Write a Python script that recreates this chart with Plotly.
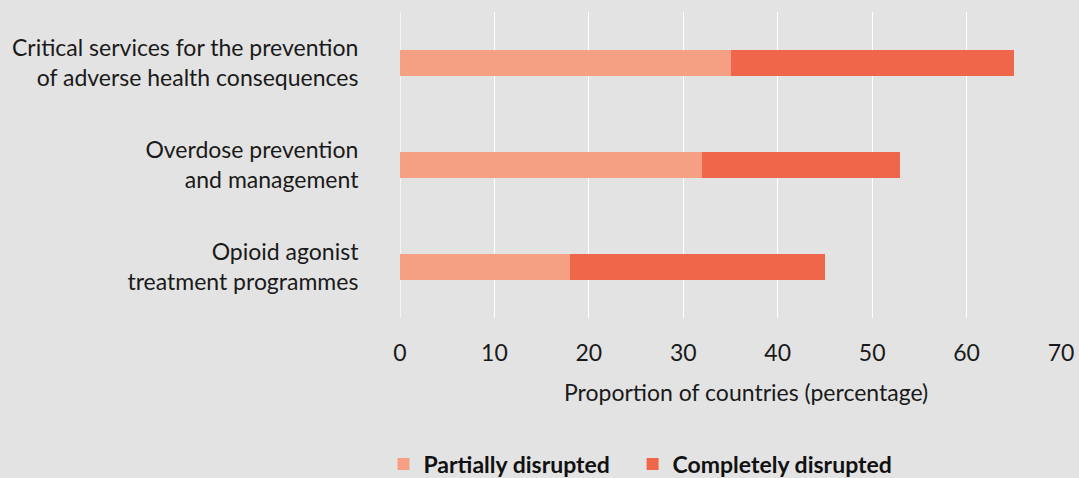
import plotly.graph_objects as go

categories = ["Opioid agonist<br>treatment programmes",
              "Overdose prevention<br>and management",
              "Critical services for the prevention<br>of adverse health consequences"]
partially = [18, 32, 35]
completely = [27, 21, 30]
x_ticks = [0, 10, 20, 30, 40, 50, 60, 70]

FONT = "Lato"
FS = 23
PAD = "\u00a0" * 3
fig = go.Figure()
fig.add_trace(go.Bar(y=categories, x=partially, orientation="h", name="<b>Partially disrupted</b>" + PAD,
                     marker=dict(color="#F6A083", line=dict(width=0)), width=0.26))
fig.add_trace(go.Bar(y=categories, x=completely, orientation="h", name="<b>Completely disrupted</b>",
                     marker=dict(color="#F0664A", line=dict(width=0)), width=0.26))

fig.update_layout(
    barmode="stack",
    width=1079, height=478,
    margin=dict(l=400, r=18, t=12, b=160, autoexpand=False),
    paper_bgcolor="#E3E3E3", plot_bgcolor="#E3E3E3",
    font=dict(family=FONT, size=FS, color="#1a1a1a"),
    showlegend=True,
    legend=dict(orientation="h", x=-0.025, xanchor="left", y=(318 - 464) / 306, yanchor="middle",
                font=dict(size=FS, color="#111"), itemwidth=30, traceorder="normal",
                bgcolor="rgba(0,0,0,0)"),
    xaxis=dict(range=[0, 70], tickvals=x_ticks, showgrid=True, gridcolor="white", gridwidth=1.2,
               zeroline=False, showline=False, ticks="outside", ticklen=14,
               tickcolor="rgba(0,0,0,0)", tickfont=dict(size=FS)),
    yaxis=dict(showgrid=False, zeroline=False, ticks="outside", ticklen=36,
               tickcolor="rgba(0,0,0,0)", tickfont=dict(size=FS), range=[-0.5, 2.5]),
    annotations=[dict(text="Proportion of countries (percentage)", xref="paper", yref="paper",
                      x=(746 - 400) / 661, y=(318 - 392) / 306, xanchor="center", yanchor="middle",
                      showarrow=False, font=dict(size=FS))],
)
fig.add_vline(x=0, line=dict(color="white", width=1.2), layer="below")
fig.write_html("out.html", post_script="document.body.style.margin='0';",
               config={"displayModeBar": False})
